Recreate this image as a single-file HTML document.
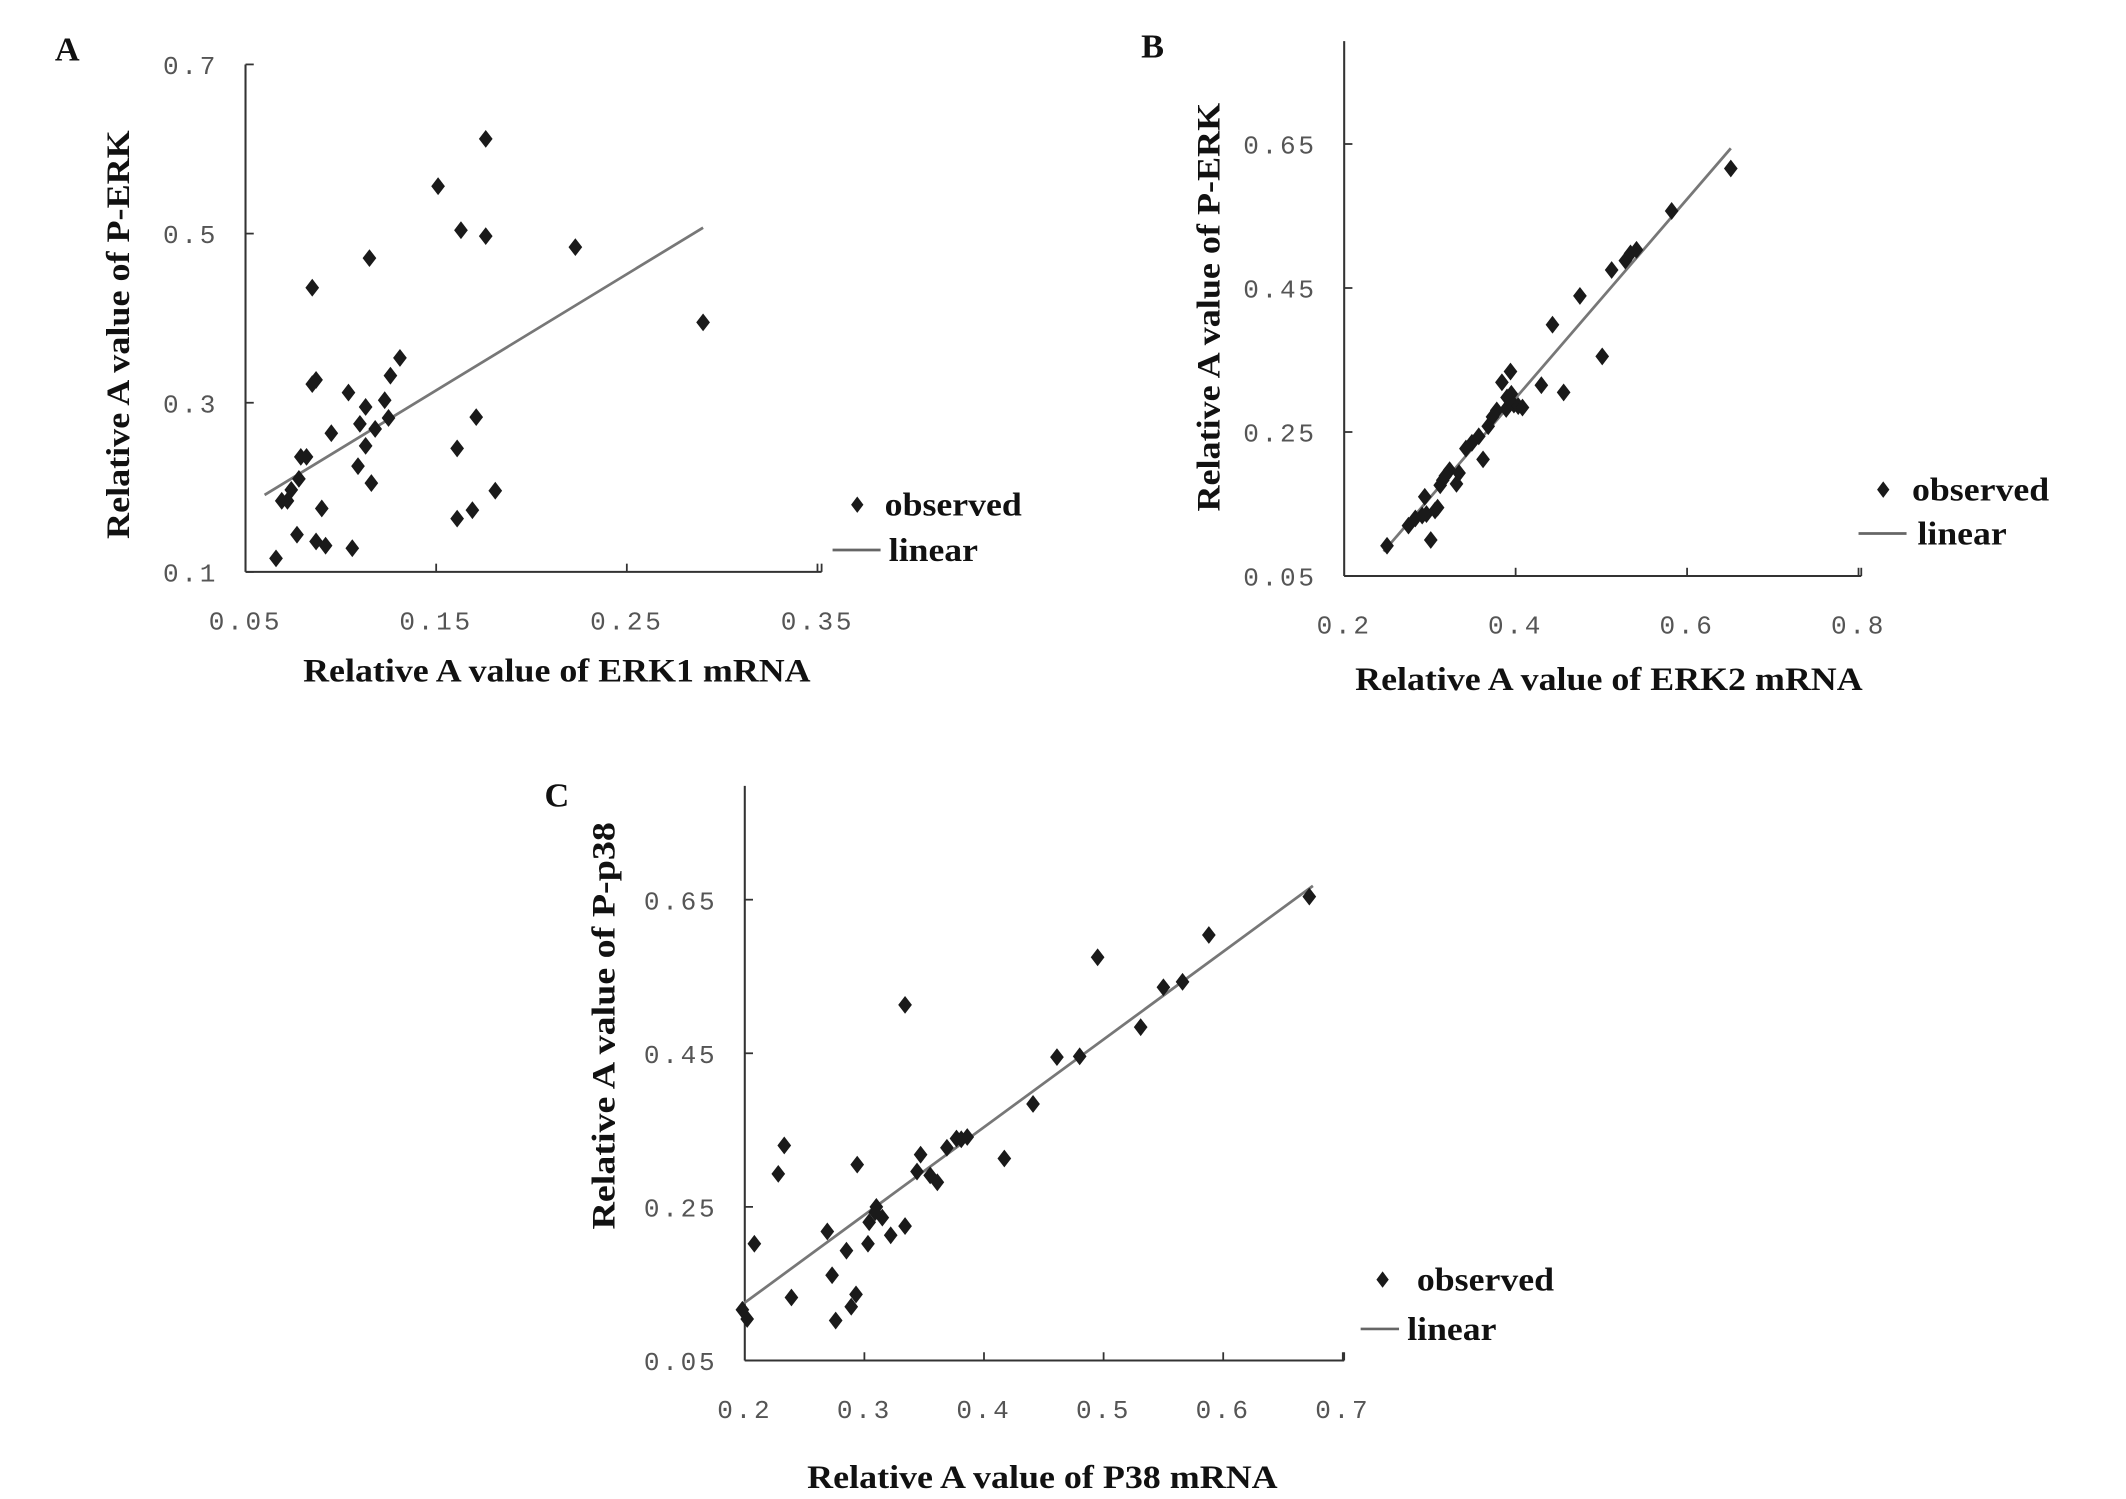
<!DOCTYPE html>
<html><head><meta charset="utf-8"><style>
html,body{margin:0;padding:0;background:#fff}
svg{display:block}
.tick{font-family:"Liberation Sans Narrow","Liberation Mono",monospace;font-size:19px;fill:#555;letter-spacing:2px}
.title{font-family:"Liberation Serif",serif;font-weight:bold;font-size:24px;fill:#111}
.panel{font-family:"Liberation Serif",serif;font-weight:bold;font-size:25px;fill:#111}
.leg{font-family:"Liberation Serif",serif;font-weight:bold;font-size:24px;fill:#111}
</style></head><body>
<svg id="fig" width="2126" height="1499" viewBox="0 0 1550 1093" preserveAspectRatio="none" xmlns="http://www.w3.org/2000/svg"></svg>
<script>
// Panel A data
const aX=[0.066,0.069,0.072,0.074,0.077,0.078,0.079,0.082,0.085,0.085,0.087,0.087,0.090,0.092,0.095,0.106,0.104,0.109,0.110,0.113,0.113,0.116,0.115,0.118,0.123,0.125,0.126,0.131,0.151,0.161,0.161,0.163,0.169,0.171,0.176,0.176,0.181,0.223,0.290];
const aY=[0.116,0.184,0.184,0.197,0.144,0.210,0.236,0.236,0.436,0.322,0.327,0.136,0.175,0.131,0.264,0.128,0.312,0.225,0.275,0.295,0.249,0.205,0.471,0.269,0.303,0.282,0.332,0.353,0.556,0.163,0.246,0.504,0.173,0.283,0.612,0.497,0.196,0.484,0.395];
const aLineX=[0.060,0.290];
const aLineY=[0.191,0.507];
const aXTicks=[0.05,0.15,0.25,0.35];
const aYTicks=[0.1,0.3,0.5,0.7];
// Panel B data
const bX=[0.250,0.301,0.275,0.283,0.291,0.296,0.306,0.309,0.294,0.312,0.315,0.318,0.323,0.331,0.334,0.342,0.349,0.362,0.357,0.368,0.373,0.378,0.389,0.390,0.394,0.384,0.395,0.398,0.403,0.408,0.430,0.443,0.456,0.475,0.501,0.512,0.528,0.534,0.541,0.582,0.651];
const bY=[0.092,0.100,0.120,0.130,0.134,0.136,0.141,0.145,0.160,0.176,0.183,0.189,0.197,0.178,0.193,0.227,0.235,0.212,0.244,0.258,0.271,0.280,0.282,0.298,0.334,0.319,0.303,0.288,0.286,0.284,0.315,0.399,0.305,0.439,0.355,0.475,0.488,0.498,0.503,0.557,0.616];
const bLineX=[0.246,0.651];
const bLineY=[0.084,0.644];
const bXTicks=[0.2,0.4,0.6,0.8];
const bYTicks=[0.05,0.25,0.45,0.65];
// Panel C data
const cX=[0.198,0.202,0.208,0.228,0.233,0.239,0.269,0.273,0.276,0.285,0.289,0.293,0.294,0.303,0.304,0.309,0.310,0.315,0.322,0.334,0.334,0.344,0.347,0.355,0.361,0.369,0.377,0.381,0.386,0.417,0.441,0.461,0.480,0.495,0.531,0.550,0.566,0.588,0.672];
const cY=[0.116,0.104,0.202,0.293,0.330,0.132,0.218,0.161,0.102,0.193,0.120,0.136,0.305,0.202,0.230,0.243,0.250,0.236,0.213,0.225,0.513,0.296,0.318,0.291,0.282,0.327,0.339,0.338,0.341,0.313,0.384,0.445,0.446,0.575,0.484,0.536,0.543,0.604,0.654];
const cLineX=[0.198,0.675];
const cLineY=[0.123,0.668];
const cXTicks=[0.2,0.3,0.4,0.5,0.6,0.7];
const cYTicks=[0.05,0.25,0.45,0.65];

const NS="http://www.w3.org/2000/svg";
const svg=document.getElementById('fig');
function mk(tag,attrs,parent,text){const e=document.createElementNS(NS,tag);for(const k in attrs)e.setAttribute(k,attrs[k]);if(text!==undefined)e.textContent=text;(parent||svg).appendChild(e);return e;}

function panel(cfg){
  const g=mk('g',{});
  
  
  const sx=v=>cfg.x0+(v-cfg.xmin)*cfg.xs;
  const sy=v=>cfg.y0-(v-cfg.ymin)*cfg.ys;
  const ya=mk('line',{x1:cfg.x0,y1:cfg.ytop,x2:cfg.x0,y2:cfg.y0,stroke:'#333','stroke-width':1.5},g);
  
  
  const xa=mk('line',{x1:cfg.x0,y1:cfg.y0,x2:cfg.xend,y2:cfg.y0,stroke:'#333','stroke-width':1.5},g);
  
  
  cfg.xt.forEach(v=>{
    const px=sx(v);
    if(Math.abs(px-cfg.x0)>2) mk('line',{x1:px,y1:cfg.y0,x2:px,y2:cfg.y0-6,stroke:'#333','stroke-width':1.3},g);
    const t=mk('text',{x:px,y:cfg.y0+42,'text-anchor':'middle',class:'tick'},g,v.toFixed(cfg.xd));
    
    
  });
  mk('line',{x1:cfg.xend,y1:cfg.y0,x2:cfg.xend,y2:cfg.y0-6,stroke:'#333','stroke-width':1.3},g);
  cfg.yt.forEach(v=>{
    const py=sy(v);
    mk('line',{x1:cfg.x0,y1:py,x2:cfg.x0+6,y2:py,stroke:'#333','stroke-width':1.3},g);
    const t=mk('text',{x:cfg.x0-20,y:py+7,'text-anchor':'end',class:'tick'},g,v.toFixed(cfg.yd));
    
    
  });
  const ln=mk('line',{x1:sx(cfg.lx[0]),y1:sy(cfg.ly[0]),x2:sx(cfg.lx[1]),y2:sy(cfg.ly[1]),stroke:'#777','stroke-width':2},g);
  
  
  cfg.px.forEach((v,i)=>{
    const cx=sx(v),cy=sy(cfg.py[i]);
    const d=mk('path',{d:`M${cx},${cy-6.5}L${cx+5},${cy}L${cx},${cy+6.5}L${cx-5},${cy}Z`,fill:'#1a1a1a'},g);
    
    
  });
  const pl=mk('text',{x:cfg.lab[0],y:cfg.lab[1],class:'panel'},g,cfg.letter);
  
  
  const xt=mk('text',{x:cfg.xtitle[0]-cfg.xtitle[2]/2,y:cfg.xtitle[1],class:'title',textLength:cfg.xtitle[2],lengthAdjust:'spacingAndGlyphs'},g,cfg.xtext);
  
  
  const yt=mk('text',{x:-cfg.ytitle[2]/2,y:0,class:'title',textLength:cfg.ytitle[2],lengthAdjust:'spacingAndGlyphs',transform:`translate(${cfg.ytitle[0]},${cfg.ytitle[1]}) rotate(-90)`},g,cfg.ytext);
  
  
  const L=cfg.leg;
  const lg=mk('g',{},g);
  
  
  mk('path',{d:`M${L.dx},${L.dy-6}L${L.dx+4.5},${L.dy}L${L.dx},${L.dy+6}L${L.dx-4.5},${L.dy}Z`,fill:'#1a1a1a'},lg);
  mk('text',{x:L.tx,y:L.dy+8,class:'leg',textLength:100,lengthAdjust:'spacingAndGlyphs'},lg,'observed');
  mk('line',{x1:L.lx1,y1:L.ly,x2:L.lx2,y2:L.ly,stroke:'#666','stroke-width':2},lg);
  mk('text',{x:L.lt,y:L.ly+8,class:'leg',textLength:65,lengthAdjust:'spacingAndGlyphs'},lg,'linear');
}

panel({name:'panel-a',letter:'A',lab:[40,44],x0:179,y0:417,ytop:47,xend:599,xmin:0.05,xs:1390,ymin:0.1,ys:616.7,
  xt:aXTicks,yt:aYTicks,xd:2,yd:1,px:aX,py:aY,lx:aLineX,ly:aLineY,
  xtitle:[406,497,370],xtext:'Relative A value of ERK1 mRNA',ytitle:[94,244,298],ytext:'Relative A value of P-ERK',
  leg:{dx:625,dy:368,tx:645,lx1:607,lx2:642,ly:401,lt:648}});
panel({name:'panel-b',letter:'B',lab:[832,42],x0:980,y0:420,ytop:30,xend:1357,xmin:0.2,xs:625,ymin:0.05,ys:525,
  xt:bXTicks,yt:bYTicks,xd:1,yd:2,px:bX,py:bY,lx:bLineX,ly:bLineY,
  xtitle:[1173,503,370],xtext:'Relative A value of ERK2 mRNA',ytitle:[889,224,298],ytext:'Relative A value of P-ERK',
  leg:{dx:1373,dy:357,tx:1394,lx1:1355,lx2:1390,ly:389,lt:1398}});
panel({name:'panel-c',letter:'C',lab:[397,588],x0:543,y0:992,ytop:573,xend:980,xmin:0.2,xs:872,ymin:0.05,ys:560,
  xt:cXTicks,yt:cYTicks,xd:1,yd:2,px:cX,py:cY,lx:cLineX,ly:cLineY,
  xtitle:[760,1085,343],xtext:'Relative A value of P38 mRNA',ytitle:[448,748,297],ytext:'Relative A value of P-p38',
  leg:{dx:1008,dy:933,tx:1033,lx1:992,lx2:1020,ly:969,lt:1026}});
</script>
</body></html>
